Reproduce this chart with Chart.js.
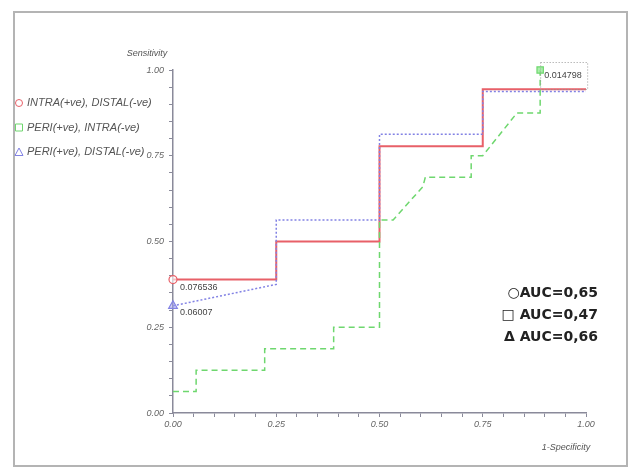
<!DOCTYPE html>
<html>
<head>
<meta charset="utf-8">
<script src="https://cdn.jsdelivr.net/npm/chart.js@4.4.0/dist/chart.umd.min.js"></script>
<style>
  html, body { margin: 0; padding: 0; background: #fff; }
  #wrap { width: 636px; height: 468px; position: relative; }
</style>
</head>
<body>
<div id="wrap"><canvas id="roc"></canvas></div>
<script>
// ROC curves (x = 1-specificity, y = sensitivity)
const seriesNames = ['INTRA(+ve), DISTAL(-ve)', 'PERI(+ve), INTRA(-ve)', 'PERI(+ve), DISTAL(-ve)'];

const redX = [0, 0.25, 0.25, 0.5, 0.5, 0.75, 0.75, 1.0];
const redY = [0.389, 0.389, 0.5, 0.5, 0.778, 0.778, 0.944, 0.944];

const greenX = [0, 0.056, 0.056, 0.222, 0.222, 0.389, 0.389, 0.5, 0.5, 0.533, 0.605, 0.611, 0.722, 0.722, 0.75, 0.833, 0.889, 0.889];
const greenY = [0.0625, 0.0625, 0.125, 0.125, 0.1875, 0.1875, 0.25, 0.25, 0.5625, 0.5625, 0.66, 0.6875, 0.6875, 0.75, 0.75, 0.875, 0.875, 1.0];

const blueX = [0, 0.25, 0.25, 0.5, 0.5, 0.75, 0.75, 1.0];
const blueY = [0.3125, 0.375, 0.5625, 0.5625, 0.8125, 0.8125, 0.9375, 0.9375];

// optimal cut-off points and their thresholds
const cutX = [0, 0.889, 0];
const cutY = [0.389, 1.0, 0.3125];
const cutLabels = ['0.076536', '0.014798', '0.06007'];

const aucLabels = ['\u25CBAUC=0,65', '\u25A1 AUC=0,47', '\u0394 AUC=0,66'];

const xTicks = [0, 0.25, 0.5, 0.75, 1.0];
const yTicks = [0, 0.25, 0.5, 0.75, 1.0];

const red = 'rgb(232,96,104)';
const green = 'rgb(110,215,110)';
const blue = 'rgb(130,130,228)';
const tickGrey = '#666';

function pts(xs, ys) {
  return xs.map((x, i) => ({ x: x, y: ys[i] }));
}
function isMajor(v, list) {
  return list.some(t => Math.abs(t - v) < 1e-6);
}

const decor = {
  id: 'decor',
  beforeDraw(chart) {
    const ctx = chart.ctx;
    ctx.save();
    ctx.fillStyle = '#fff';
    ctx.fillRect(0, 0, chart.width, chart.height);
    ctx.strokeStyle = '#b4b4b4';
    ctx.lineWidth = 2;
    ctx.strokeRect(14, 12, 613, 454);
    ctx.restore();
  },
  afterDatasetsDraw(chart) {
    const ctx = chart.ctx;
    const ca = chart.chartArea;
    ctx.save();

    // axis titles
    ctx.fillStyle = '#555';
    ctx.font = 'italic 9px "Liberation Sans", Arial, sans-serif';
    ctx.textAlign = 'center';
    ctx.textBaseline = 'middle';
    ctx.fillText('Sensitivity', ca.left - 26, ca.top - 17);
    ctx.fillText('1-Specificity', ca.right - 20, ca.bottom + 34);

    // legend
    const cols = [red, green, blue];
    ctx.font = 'italic 11px "Liberation Sans", Arial, sans-serif';
    ctx.textAlign = 'left';
    for (let i = 0; i < seriesNames.length; i++) {
      const y = 103 + i * 24.5;
      ctx.strokeStyle = cols[i];
      ctx.lineWidth = 1;
      ctx.beginPath();
      if (i === 0) ctx.arc(19, y, 3.5, 0, Math.PI * 2);
      else if (i === 1) ctx.rect(15.5, y - 3.5, 7, 7);
      else { ctx.moveTo(19, y - 4); ctx.lineTo(23, y + 3.5); ctx.lineTo(15, y + 3.5); ctx.closePath(); }
      ctx.stroke();
      ctx.fillStyle = '#555';
      ctx.fillText(seriesNames[i], 27, y);
    }

    // cut-off labels next to the markers
    ctx.font = '9px "Liberation Sans", Arial, sans-serif';
    ctx.fillStyle = '#444';
    const offs = [[7, 8], [4, 6], [7, 7]];
    for (let i = 0; i < cutLabels.length; i++) {
      const p = chart.getDatasetMeta(3 + i).data[0];
      ctx.fillText(cutLabels[i], p.x + offs[i][0], p.y + offs[i][1]);
      if (i === 1) {
        ctx.strokeStyle = '#999';
        ctx.setLineDash([1, 2]);
        ctx.lineWidth = 1;
        ctx.strokeRect(p.x + 0.5, p.y - 7.5, 47, 27);
        ctx.setLineDash([]);
      }
    }

    // AUC annotation
    ctx.font = 'bold 14px "DejaVu Sans", sans-serif';
    ctx.fillStyle = '#222';
    ctx.textAlign = 'right';
    for (let i = 0; i < aucLabels.length; i++) {
      ctx.fillText(aucLabels[i], 598, 293 + i * 22);
    }
    ctx.restore();
  }
};

const ctx = document.getElementById('roc').getContext('2d');
const chart = new Chart(ctx, {
  type: 'scatter',
  data: {
    datasets: [
      { label: seriesNames[0], data: pts(redX, redY), showLine: true, borderColor: red, borderWidth: 2, pointRadius: 0, order: 3 },
      { label: seriesNames[1], data: pts(greenX, greenY), showLine: true, borderColor: green, borderWidth: 1.5, borderDash: [6, 4], pointRadius: 0, order: 2 },
      { label: seriesNames[2], data: pts(blueX, blueY), showLine: true, borderColor: blue, borderWidth: 1.5, borderDash: [2, 2], pointRadius: 0, order: 1 },
      { label: 'cut1', data: [{ x: cutX[0], y: cutY[0] }], clip: false, pointStyle: 'circle', pointRadius: 4, borderColor: red, backgroundColor: 'rgba(255,255,255,0.6)', borderWidth: 1.2 },
      { label: 'cut2', data: [{ x: cutX[1], y: cutY[1] }], clip: false, pointStyle: 'rect', pointRadius: 4.5, borderColor: green, backgroundColor: 'rgba(150,235,150,0.8)', borderWidth: 1.2 },
      { label: 'cut3', data: [{ x: cutX[2], y: cutY[2] }], clip: false, pointStyle: 'triangle', pointRadius: 5, borderColor: blue, backgroundColor: 'rgba(160,160,240,0.5)', borderWidth: 1.2 }
    ]
  },
  options: {
    responsive: true,
    maintainAspectRatio: false,
    animation: false,
    layout: { padding: { top: 70, right: 50, left: 0, bottom: 0 } },
    plugins: { legend: { display: false }, tooltip: { enabled: false } },
    scales: {
      x: {
        type: 'linear', min: 0, max: 1,
        afterFit: function(scale) { scale.height = 55; },
        border: { display: true, color: '#8a8a9a', width: 1.5 },
        grid: { drawOnChartArea: false, tickLength: 4, color: '#8a8a9a' },
        ticks: {
          stepSize: 0.05, autoSkip: false, maxRotation: 0, padding: 2,
          color: tickGrey, font: { size: 9, style: 'italic', family: '"Liberation Sans", Arial, sans-serif' },
          callback: function(v) { return isMajor(v, xTicks) ? v.toFixed(2) : ''; }
        }
      },
      y: {
        type: 'linear', min: 0, max: 1,
        afterFit: function(scale) { scale.width = 173; },
        border: { display: true, color: '#8a8a9a', width: 1.5 },
        grid: { drawOnChartArea: false, tickLength: 4, color: '#8a8a9a' },
        ticks: {
          stepSize: 0.05, autoSkip: false, padding: 5,
          color: tickGrey, font: { size: 9, style: 'italic', family: '"Liberation Sans", Arial, sans-serif' },
          callback: function(v) { return isMajor(v, yTicks) ? v.toFixed(2) : ''; }
        }
      }
    }
  },
  plugins: [decor]
});
</script>
</body>
</html>
